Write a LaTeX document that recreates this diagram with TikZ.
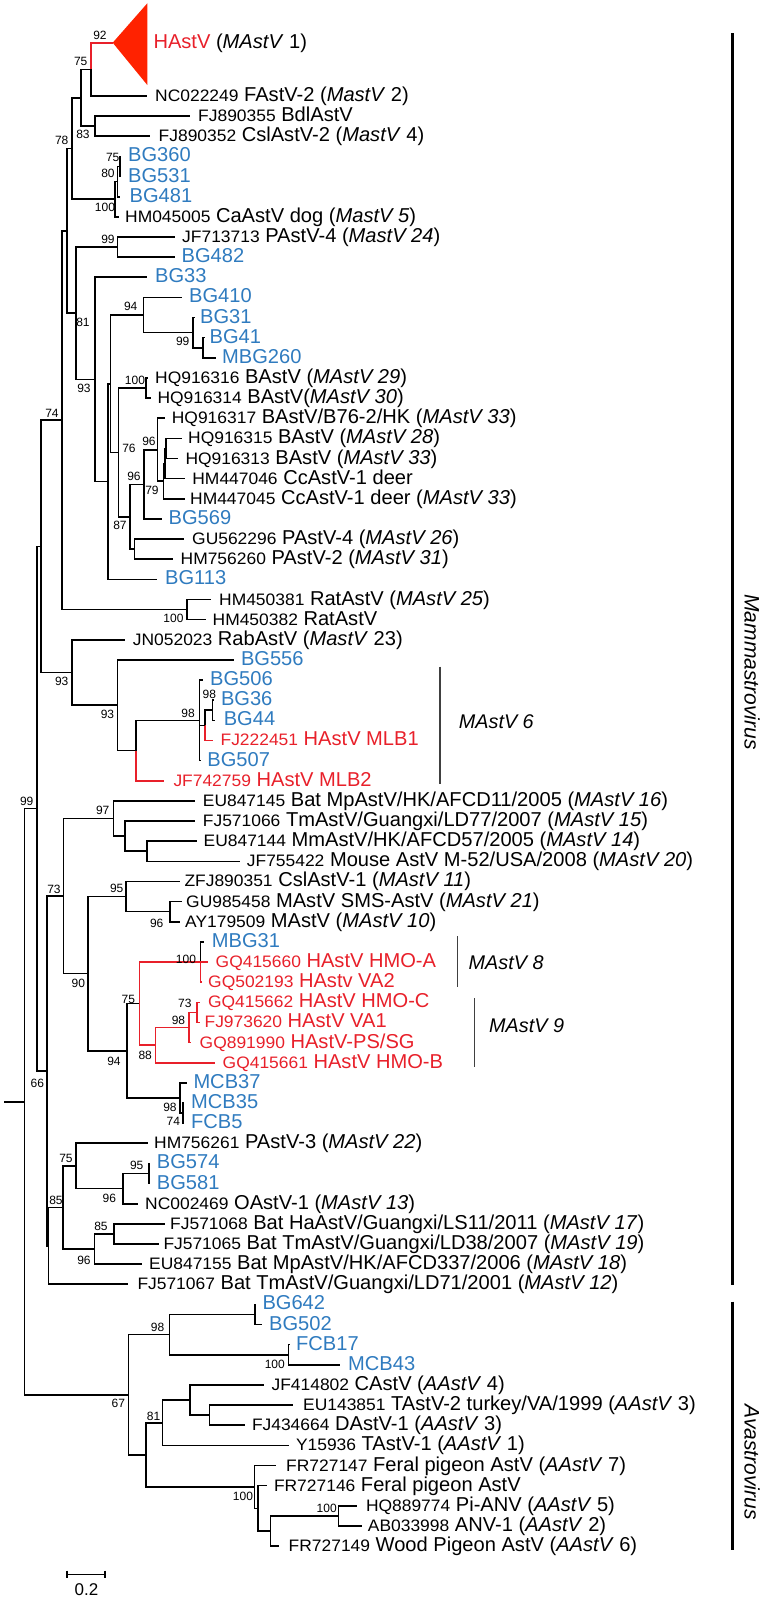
\documentclass[tikz,border=0pt]{standalone}
\usepackage{fontspec}
\setmainfont{Liberation Sans}
\newfontfamily\accfam[FakeStretch=1.05]{Liberation Sans}
\usetikzlibrary{calc}
\definecolor{tblue}{RGB}{47,123,191}
\definecolor{tred}{RGB}{232,32,42}
\definecolor{tri}{RGB}{255,34,0}
\newcommand\acc[1]{{\accfam\fontsize{16.6}{18}\selectfont #1}}
\newcommand\tip[5]{%
  \coordinate (t#1) at (#2,{96+(#1-2)*20.14});
  \node[lbl,text=#4] (l#1) at (#3,{96+(#1-2)*20.14+5.5}) {#5};}
\newcommand\inode[4]{%
  \path let \p1=(#3), \p2=(#4) in coordinate (#1) at (#2pt,{0.5*(\y1+\y2)});}
\newcommand\kids[3]{\draw[br] (#1) |- (#2) (#1) |- (#3);}
\begin{document}
\begin{tikzpicture}[x=1pt,y=-1pt,
  br/.style={line width=1.6pt},
  rbr/.style={line width=1.6pt,draw=tred},
  lbl/.style={anchor=base west,inner sep=0pt,font=\fontsize{20.1}{22}\selectfont},
  sup/.style={inner sep=0pt,font=\fontsize{12}{14}\selectfont},
  grp/.style={line width=1.2pt,draw=black!75},
  grplbl/.style={anchor=west,inner sep=0pt,font=\itshape\fontsize{19.8}{22}\selectfont},
  vlbl/.style={rotate=-90,inner sep=0pt,font=\itshape\fontsize{21}{23}\selectfont},
  big/.style={line width=3pt}]
\useasboundingbox (0,0) rectangle (767,1599);
% ---- tips
\coordinate (t1) at (112.7,42.7);
\node[lbl] (l1) at (153.3,48.2) {\textcolor{tred}{HAstV} (\textit{MAstV} 1)};
\tip{2}{147.3}{155}{black}{\acc{NC022249} FAstV-2 (\textit{MastV} 2)}
\tip{3}{190}{198}{black}{\acc{FJ890355} BdlAstV}
\tip{4}{150}{158.5}{black}{\acc{FJ890352} CslAstV-2 (\textit{MastV} 4)}
\tip{5}{121}{128}{tblue}{BG360}
\tip{6}{121}{128}{tblue}{BG531}
\tip{7}{120}{129.5}{tblue}{BG481}
\tip{8}{118.5}{125}{black}{\acc{HM045005} CaAstV dog (\textit{MastV 5})}
\tip{9}{174.5}{182}{black}{\acc{JF713713} PAstV-4 (\textit{MastV 24})}
\tip{10}{174.5}{181.5}{tblue}{BG482}
\tip{11}{147}{155}{tblue}{BG33}
\tip{12}{182}{189}{tblue}{BG410}
\tip{13}{194.5}{200}{tblue}{BG31}
\tip{14}{204.5}{209.5}{tblue}{BG41}
\tip{15}{216}{222}{tblue}{MBG260}
\tip{16}{148}{155}{black}{\acc{HQ916316} BAstV (\textit{MAstV 29})}
\tip{17}{150.7}{157.3}{black}{\acc{HQ916314} BAstV(\textit{MAstV 30})}
\tip{18}{165}{171.7}{black}{\acc{HQ916317} BAstV/B76-2/HK (\textit{MAstV 33})}
\tip{19}{181.7}{188}{black}{\acc{HQ916315} BAstV (\textit{MAstV 28})}
\tip{20}{178.3}{185.3}{black}{\acc{HQ916313} BAstV (\textit{MAstV 33})}
\tip{21}{185}{192.2}{black}{\acc{HM447046} CcAstV-1 deer}
\tip{22}{185}{190}{black}{\acc{HM447045} CcAstV-1 deer (\textit{MAstV 33})}
\tip{23}{161.7}{168.5}{tblue}{BG569}
\tip{24}{184}{192}{black}{\acc{GU562296} PAstV-4 (\textit{MAstV 26})}
\tip{25}{173}{180.5}{black}{\acc{HM756260} PAstV-2 (\textit{MAstV 31})}
\tip{26}{156.7}{165}{tblue}{BG113}
\tip{27}{211}{219}{black}{\acc{HM450381} RatAstV (\textit{MAstV 25})}
\tip{28}{206}{212.5}{black}{\acc{HM450382} RatAstV}
\tip{29}{124.7}{132.7}{black}{\acc{JN052023} RabAstV (\textit{MastV} 23)}
\tip{30}{233.7}{240.8}{tblue}{BG556}
\tip{31}{202.7}{210}{tblue}{BG506}
\tip{32}{213.5}{220.8}{tblue}{BG36}
\tip{33}{214.5}{223.6}{tblue}{BG44}
\tip{34}{213.3}{220.4}{tred}{\acc{FJ222451} HAstV MLB1}
\tip{35}{201}{207.2}{tblue}{BG507}
\tip{36}{164.3}{173.3}{tred}{\acc{JF742759} HAstV MLB2}
\tip{37}{195}{202.7}{black}{\acc{EU847145} Bat MpAstV/HK/AFCD11/2005 (\textit{MAstV 16})}
\tip{38}{195}{202.7}{black}{\acc{FJ571066} TmAstV/Guangxi/LD77/2007 (\textit{MAstV 15})}
\tip{39}{196.7}{203.5}{black}{\acc{EU847144} MmAstV/HK/AFCD57/2005 (\textit{MAstV 14})}
\tip{40}{240}{246.7}{black}{\acc{JF755422} Mouse AstV M-52/USA/2008 (\textit{MAstV 20})}
\tip{41}{180}{184.3}{black}{\acc{ZFJ890351} CslAstV-1 (\textit{MAstV 11})}
\tip{42}{181.7}{186}{black}{\acc{GU985458} MAstV SMS-AstV (\textit{MAstV 21})}
\tip{43}{180}{185}{black}{\acc{AY179509} MAstV (\textit{MAstV 10})}
\tip{44}{204}{211.7}{tblue}{MBG31}
\tip{45}{208}{215.5}{tred}{\acc{GQ415660} HAstV HMO-A}
\tip{46}{201}{208}{tred}{\acc{GQ502193} HAstv VA2}
\tip{47}{200}{207.8}{tred}{\acc{GQ415662} HAstV HMO-C}
\tip{48}{200}{204.4}{tred}{\acc{FJ973620} HAstV VA1}
\tip{49}{191}{199.5}{tred}{\acc{GQ891990} HAstV-PS/SG}
\tip{50}{215}{222.5}{tred}{\acc{GQ415661} HAstV HMO-B}
\tip{51}{186.7}{193.3}{tblue}{MCB37}
\tip{52}{184}{191}{tblue}{MCB35}
\tip{53}{184}{191}{tblue}{FCB5}
\tip{54}{147.7}{154}{black}{\acc{HM756261} PAstV-3 (\textit{MAstV 22})}
\tip{55}{150}{156.7}{tblue}{BG574}
\tip{56}{150}{156.7}{tblue}{BG581}
\tip{57}{137.7}{145}{black}{\acc{NC002469} OAstV-1 (\textit{MAstV 13})}
\tip{58}{165}{170}{black}{\acc{FJ571068} Bat HaAstV/Guangxi/LS11/2011 (\textit{MAstV 17})}
\tip{59}{159.3}{163.3}{black}{\acc{FJ571065} Bat TmAstV/Guangxi/LD38/2007 (\textit{MAstV 19})}
\tip{60}{141.7}{149}{black}{\acc{EU847155} Bat MpAstV/HK/AFCD337/2006 (\textit{MAstV 18})}
\tip{61}{128.3}{137.3}{black}{\acc{FJ571067} Bat TmAstV/Guangxi/LD71/2001 (\textit{MAstV 12})}
\tip{62}{255.5}{262.3}{tblue}{BG642}
\tip{63}{262}{269}{tblue}{BG502}
\tip{64}{290}{296}{tblue}{FCB17}
\tip{65}{340}{348}{tblue}{MCB43}
\tip{66}{264}{271.4}{black}{\acc{JF414802} CAstV (\textit{AAstV} 4)}
\tip{67}{293.4}{303}{black}{\acc{EU143851} TAstV-2 turkey/VA/1999 (\textit{AAstV} 3)}
\tip{68}{244.5}{251.8}{black}{\acc{FJ434664} DAstV-1 (\textit{AAstV} 3)}
\tip{69}{288.5}{295.8}{black}{\acc{Y15936} TAstV-1 (\textit{AAstV} 1)}
\tip{70}{276.3}{286}{black}{\acc{FR727147} Feral pigeon AstV (\textit{AAstV} 7)}
\tip{71}{266.5}{273.8}{black}{\acc{FR727146} Feral pigeon AstV}
\tip{72}{357}{365.8}{black}{\acc{HQ889774} Pi-ANV (\textit{AAstV} 5)}
\tip{73}{361.9}{367.7}{black}{\acc{AB033998} ANV-1 (\textit{AAstV} 2)}
\tip{74}{278.7}{288.5}{black}{\acc{FR727149} Wood Pigeon AstV (\textit{AAstV} 6)}
% ---- internal nodes
\inode{n75a}{91}{t1}{t2}
\inode{n83a}{95}{t3}{t4}
\inode{nU1}{81}{n75a}{n83a}
\inode{n75b}{120}{t5}{t6}
\inode{n80}{117.5}{n75b}{t7}
\inode{n100a}{115}{n80}{t8}
\inode{n78}{71.7}{nU1}{n100a}
\inode{n99a}{117.3}{t9}{t10}
\inode{nX1}{202.7}{t14}{t15}
\inode{n99b}{192.7}{t13}{nX1}
\inode{n94a}{143.3}{t12}{n99b}
\inode{n100c}{145.7}{t16}{t17}
\inode{nQ}{166}{t19}{t20}
\inode{nR}{164.7}{nQ}{t21}
\inode{n79}{163.3}{nR}{t22}
\inode{n96a}{157.3}{t18}{n79}
\inode{n96b}{144}{n96a}{t23}
\inode{nP}{134.3}{t24}{t25}
\inode{n87}{130}{n96b}{nP}
\inode{n76}{118.3}{n100c}{n87}
\inode{nXa}{110.5}{n94a}{n76}
\inode{nW}{108}{nXa}{t26}
\inode{n93a}{95}{t11}{nW}
\inode{n81}{76}{n99a}{n93a}
\inode{nV}{66.7}{n78}{n81}
\inode{n100r}{186.7}{t27}{t28}
\inode{n74}{61.7}{nV}{n100r}
\inode{n98s}{212.3}{t32}{t33}
\inode{nM}{205}{n98s}{t34}
\inode{n98m}{199.3}{t31}{t35}
\inode{nMLB}{136}{n98m}{t36}
\inode{n93b}{117.3}{t30}{nMLB}
\inode{n93c}{71.7}{t29}{n93b}
\inode{n41}{41}{n74}{n93c}
\inode{nE}{146.7}{t39}{t40}
\inode{nF}{125}{t38}{nE}
\inode{n97}{113.3}{t37}{nF}
\inode{n96c}{170}{t42}{t43}
\inode{n95a}{126}{t41}{n96c}
\inode{n100m}{200.5}{t44}{t46}
\inode{n73m}{197}{t47}{t48}
\inode{n98n}{189}{n73m}{t49}
\inode{n88}{155.5}{n98n}{t50}
\inode{n75m}{139.4}{n100m}{n88}
\inode{n74m}{182.7}{t52}{t53}
\inode{n98mc}{180}{t51}{n74m}
\inode{n94m}{126.7}{n75m}{n98mc}
\inode{n90}{87.7}{n95a}{n94m}
\inode{n73}{63.3}{n97}{n90}
\inode{n95b}{149}{t55}{t56}
\inode{n96d}{122.7}{n95b}{t57}
\inode{n75c}{76}{t54}{n96d}
\inode{n85a}{114}{t58}{t59}
\inode{n96e}{94.3}{n85a}{t60}
\inode{n85b}{62.7}{n75c}{n96e}
\inode{nXb}{48.3}{n85b}{t61}
\inode{nY}{46.7}{n73}{nXb}
\inode{n99}{36.7}{n41}{nY}
\inode{nBG}{255}{t62}{t63}
\inode{n100v}{288.5}{t64}{t65}
\inode{n98v}{169.5}{nBG}{n100v}
\inode{nT}{209.3}{t67}{t68}
\inode{nJ}{189.7}{t66}{nT}
\inode{n81v}{162.5}{nJ}{t69}
\inode{n100p}{338.4}{t72}{t73}
\inode{nWP}{270.4}{n100p}{t74}
\inode{nF6}{257.7}{t71}{nWP}
\inode{n100f}{254.3}{t70}{nF6}
\inode{nAv2}{145.7}{n81v}{n100f}
\inode{n67}{128.3}{n98v}{nAv2}
\inode{root}{24.5}{n99}{n67}
\coordinate (rs) at ($(root)+(-20.5,0)$);
% ---- branches
\fill[tri] (t1) -- ++(34.6,-39.4) -- ++(0,81.7) -- cycle;
\draw[rbr] (n75a) |- (t1);
\draw[br] (n75a) |- (t2);
\kids{n83a}{t3}{t4}
\kids{nU1}{n75a}{n83a}
\kids{n75b}{t5}{t6}
\kids{n80}{n75b}{t7}
\kids{n100a}{n80}{t8}
\kids{n78}{nU1}{n100a}
\kids{n99a}{t9}{t10}
\kids{nX1}{t14}{t15}
\kids{n99b}{t13}{nX1}
\kids{n94a}{t12}{n99b}
\kids{n100c}{t16}{t17}
\kids{nQ}{t19}{t20}
\kids{nR}{nQ}{t21}
\kids{n79}{nR}{t22}
\kids{n96a}{t18}{n79}
\kids{n96b}{n96a}{t23}
\kids{nP}{t24}{t25}
\kids{n87}{n96b}{nP}
\kids{n76}{n100c}{n87}
\kids{nXa}{n94a}{n76}
\kids{nW}{nXa}{t26}
\kids{n93a}{t11}{nW}
\kids{n81}{n99a}{n93a}
\kids{nV}{n78}{n81}
\kids{n100r}{t27}{t28}
\kids{n74}{nV}{n100r}
\kids{n98s}{t32}{t33}
\draw[br] (nM) |- (n98s);
\draw[rbr] (nM) |- (t34);
\kids{n98m}{t31}{t35}
\draw[br] (n98m) |- (nM);
\draw[br] (nMLB) |- (n98m);
\draw[rbr] (nMLB) |- (t36);
\kids{n93b}{t30}{nMLB}
\kids{n93c}{t29}{n93b}
\kids{n41}{n74}{n93c}
\kids{nE}{t39}{t40}
\kids{nF}{t38}{nE}
\kids{n97}{t37}{nF}
\kids{n96c}{t42}{t43}
\kids{n95a}{t41}{n96c}
\draw[br] (n100m) |- (t44);
\draw[rbr] (n100m) |- (t45) (n100m) |- (t46);
\draw[rbr] (n73m) |- (t47) (n73m) |- (t48);
\draw[rbr] (n98n) |- (n73m) (n98n) |- (t49);
\draw[rbr] (n88) |- (n98n) (n88) |- (t50);
\draw[rbr] (n75m) |- (n100m) (n75m) |- (n88);
\kids{n74m}{t52}{t53}
\kids{n98mc}{t51}{n74m}
\kids{n94m}{n75m}{n98mc}
\kids{n90}{n95a}{n94m}
\kids{n73}{n97}{n90}
\kids{n95b}{t55}{t56}
\kids{n96d}{n95b}{t57}
\kids{n75c}{t54}{n96d}
\kids{n85a}{t58}{t59}
\kids{n96e}{n85a}{t60}
\kids{n85b}{n75c}{n96e}
\kids{nXb}{n85b}{t61}
\kids{nY}{n73}{nXb}
\kids{n99}{n41}{nY}
\kids{nBG}{t62}{t63}
\kids{n100v}{t64}{t65}
\kids{n98v}{nBG}{n100v}
\kids{nT}{t67}{t68}
\kids{nJ}{t66}{nT}
\kids{n81v}{nJ}{t69}
\kids{n100p}{t72}{t73}
\kids{nWP}{n100p}{t74}
\kids{nF6}{t71}{nWP}
\kids{n100f}{t70}{nF6}
\kids{nAv2}{n81v}{n100f}
\kids{n67}{n98v}{nAv2}
\kids{root}{n99}{n67}
\draw[br] (rs) -- (root);
% ---- support values
\node[sup] (b1) at (100,35) {92};
\node[sup] (b2) at (80.7,61.7) {75};
\node[sup] (b3) at (83,134) {83};
\node[sup] (b4) at (61.7,140) {78};
\node[sup] (b5) at (112.7,157) {75};
\node[sup] (b6) at (108,173) {80};
\node[sup] (b7) at (105,207) {100};
\node[sup] (b8) at (108,239) {99};
\node[sup] (b9) at (83,322) {81};
\node[sup] (b10) at (130.7,306.7) {94};
\node[sup] (b11) at (84,388) {93};
\node[sup] (b12) at (182.7,341.7) {99};
\node[sup] (b13) at (135,380) {100};
\node[sup] (b14) at (52,413) {74};
\node[sup] (b15) at (129,448) {76};
\node[sup] (b16) at (149,441.7) {96};
\node[sup] (b17) at (134,476) {96};
\node[sup] (b18) at (152,490) {79};
\node[sup] (b19) at (120,525) {87};
\node[sup] (b20) at (173.5,618) {100};
\node[sup] (b21) at (61.7,681.7) {93};
\node[sup] (b22) at (107.5,714.5) {93};
\node[sup] (b23) at (188,713) {98};
\node[sup] (b24) at (209.3,694.3) {98};
\node[sup] (b25) at (26.7,801.7) {99};
\node[sup] (b26) at (102.7,810.7) {97};
\node[sup] (b27) at (54,889.3) {73};
\node[sup] (b28) at (116.7,888.3) {95};
\node[sup] (b29) at (156.7,923.3) {96};
\node[sup] (b30) at (186,959) {100};
\node[sup] (b31) at (78.3,983.3) {90};
\node[sup] (b32) at (128.3,999) {75};
\node[sup] (b33) at (184.8,1003.3) {73};
\node[sup] (b34) at (178.5,1020.7) {98};
\node[sup] (b35) at (145.2,1055) {88};
\node[sup] (b36) at (114,1061.7) {94};
\node[sup] (b37) at (37.3,1083.3) {66};
\node[sup] (b38) at (170,1107.3) {98};
\node[sup] (b39) at (173.3,1121.7) {74};
\node[sup] (b40) at (66,1158.3) {75};
\node[sup] (b41) at (136.7,1165) {95};
\node[sup] (b42) at (109.3,1198.3) {96};
\node[sup] (b43) at (56,1200) {85};
\node[sup] (b44) at (101,1226.7) {85};
\node[sup] (b45) at (84,1260.7) {96};
\node[sup] (b46) at (157.5,1327.7) {98};
\node[sup] (b47) at (274.8,1364) {100};
\node[sup] (b48) at (118.3,1403.3) {67};
\node[sup] (b49) at (153.5,1416.7) {81};
\node[sup] (b50) at (243,1496.7) {100};
\node[sup] (b51) at (326.7,1508.3) {100};
% ---- group bars
\draw[grp] (440,666.7) -- (440,784.3);
\node[grplbl] (g6) at (458.7,721.7) {MAstV 6};
\draw[grp] (457.2,936) -- (457.2,986.7);
\node[grplbl] (g8) at (468.5,962.3) {MAstV 8};
\draw[grp] (474.3,998.3) -- (474.3,1066.7);
\node[grplbl] (g9) at (489,1025.7) {MAstV 9};
\draw[big] (732,33.3) -- (732,1285);
\draw[big] (732,1301.7) -- (732,1550);
\node[vlbl] (mam) at (752,672) {Mammastrovirus};
\node[vlbl] (ava) at (752,1462) {Avastrovirus};
% ---- scale bar
\draw[line width=1.3pt] (67,1574.3) -- (105,1574.3);
\draw[line width=1.3pt] (67,1570.5) -- (67,1578) (105,1570.5) -- (105,1578);
\node[inner sep=0pt,font=\fontsize{17}{19}\selectfont] (sc) at (86.5,1589.3) {0.2};
\end{tikzpicture}
\end{document}
